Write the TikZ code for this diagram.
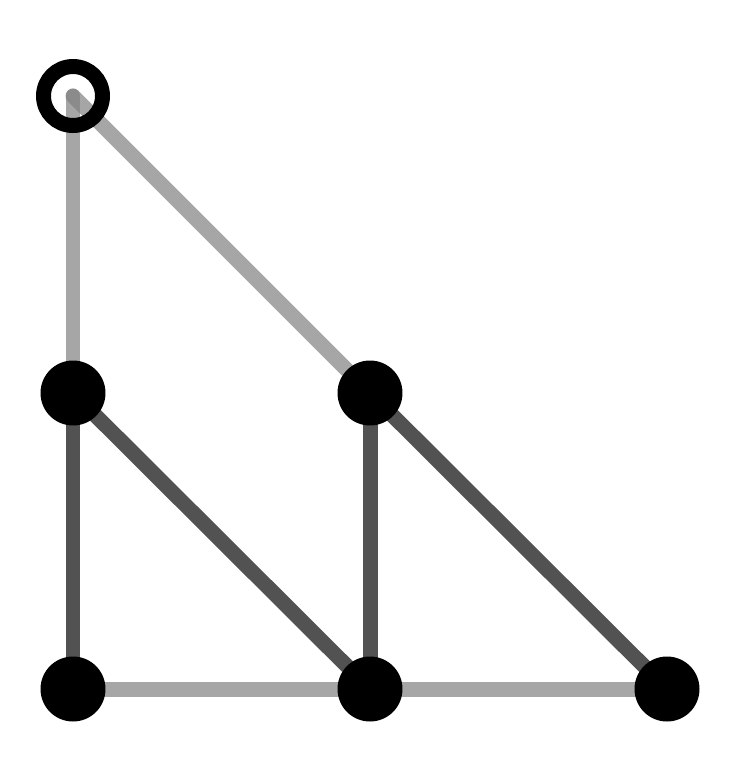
\documentclass[tikz,border=0pt]{standalone}
\usetikzlibrary{backgrounds}
\begin{document}
\begin{tikzpicture}[x=0.02cm, y=-0.02cm,
                dot/.style={circle, fill=black, inner sep=0pt, minimum size=1.3cm},
                ring/.style={circle, draw=black, line width=0.3cm, inner sep=0pt, minimum size=1.18cm},
                lite/.style={draw=gray, draw opacity=0.7, line width=0.3cm, line cap=round},
                dark/.style={draw=black!68, line width=0.3cm, line cap=round}]
                \useasboundingbox (0,0) rectangle (749,761);
                \node[ring](n00) at (73,96) {};
                \node[dot](n10) at (73,393) {};
                \node[dot](n11) at (370,393) {};
                \node[dot](n20) at (73,689) {};
                \node[dot](n21) at (370,689) {};
                \node[dot](n22) at (667,689) {};
                \begin{pgfonlayer}{background}
                    \draw[lite] (n00.center) -- (n10.center);
                    \draw[lite] (n00.center) -- (n11.center);
                    \draw[lite] (n20.center) -- (n21.center);
                    \draw[lite] (n21.center) -- (n22.center);
                    \draw[dark] (n10.center) -- (n20.center);
                    \draw[dark] (n10.center) -- (n21.center);
                    \draw[dark] (n11.center) -- (n21.center);
                    \draw[dark] (n11.center) -- (n22.center);
                \end{pgfonlayer}
            \end{tikzpicture}
\end{document}
